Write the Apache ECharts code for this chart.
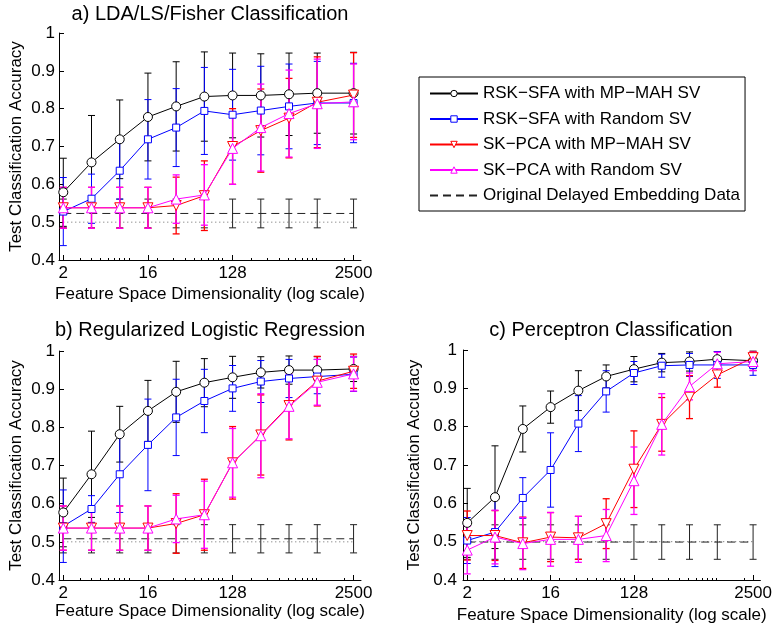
<!DOCTYPE html>
<html>
<head>
<meta charset="utf-8">
<script src="https://cdn.jsdelivr.net/npm/echarts@6/dist/echarts.min.js"></script>
<style>
  html, body { margin: 0; padding: 0; background: #fff; }
  #chart { width: 775px; height: 625px; }
</style>
</head>
<body>
<div id="chart"></div>
<script>
// feature space dimensionality (x values)
const dims = [2, 4, 8, 16, 32, 64, 128, 256, 512, 1024, 2500];
const xMajorTicks = [2, 16, 128, 2500];
const xMinorTicks = [3, 4, 5, 6, 7, 8, 9, 10, 20, 30, 40, 50, 60, 70, 80, 90, 100,
  200, 300, 400, 500, 600, 700, 800, 900, 1000, 2000];
const chanceLevel = 0.5;

const seriesNames = [
  'RSK\u2212SFA with MP\u2212MAH SV',
  'RSK\u2212SFA with Random SV',
  'SK\u2212PCA with MP\u2212MAH SV',
  'SK\u2212PCA with Random SV',
  'Original Delayed Embedding Data'
];
const panelTitles = [
  'a) LDA/LS/Fisher Classification',
  'b) Regularized Logistic Regression',
  'c) Perceptron Classification'
];

// a) LDA/LS/Fisher
const aMpSfa = [0.579, 0.658, 0.719, 0.778, 0.806, 0.832, 0.835, 0.835, 0.838, 0.841, 0.841];
const aMpSfaErr = [0.09, 0.124, 0.104, 0.116, 0.118, 0.118, 0.112, 0.11, 0.109, 0.106, 0.108];
const aRndSfa = [0.528, 0.562, 0.636, 0.719, 0.750, 0.794, 0.784, 0.795, 0.806, 0.815, 0.815];
const aRndSfaErr = [0.09, 0.065, 0.075, 0.105, 0.103, 0.115, 0.12, 0.117, 0.112, 0.11, 0.105];
const aMpPca = [0.538, 0.538, 0.538, 0.538, 0.544, 0.570, 0.700, 0.742, 0.775, 0.817, 0.836];
const aMpPcaErr = [0.054, 0.054, 0.054, 0.054, 0.075, 0.092, 0.1, 0.11, 0.105, 0.12, 0.112];
const aRndPca = [0.538, 0.538, 0.538, 0.538, 0.561, 0.572, 0.695, 0.750, 0.787, 0.813, 0.818];
const aRndPcaErr = [0.054, 0.054, 0.054, 0.054, 0.064, 0.08, 0.095, 0.115, 0.115, 0.118, 0.1];
const aOrig = [0.523, 0.523, 0.523, 0.523, 0.523, 0.523, 0.523, 0.523, 0.523, 0.523, 0.523];
const aOrigErr = [0.038, 0.038, 0.038, 0.038, 0.038, 0.038, 0.038, 0.038, 0.038, 0.038, 0.038];

// b) Regularized Logistic Regression
const bMpSfa = [0.577, 0.677, 0.782, 0.843, 0.893, 0.917, 0.931, 0.944, 0.950, 0.950, 0.953];
const bMpSfaErr = [0.09, 0.113, 0.073, 0.08, 0.08, 0.063, 0.055, 0.041, 0.037, 0.035, 0.033];
const bRndSfa = [0.541, 0.586, 0.677, 0.754, 0.826, 0.869, 0.902, 0.920, 0.928, 0.933, 0.939];
const bRndSfaErr = [0.095, 0.035, 0.1, 0.12, 0.1, 0.083, 0.06, 0.055, 0.05, 0.045, 0.045];
const bMpPca = [0.536, 0.536, 0.536, 0.536, 0.548, 0.571, 0.707, 0.780, 0.857, 0.921, 0.947];
const bMpPcaErr = [0.058, 0.058, 0.058, 0.058, 0.078, 0.093, 0.095, 0.105, 0.09, 0.065, 0.045];
const bRndPca = [0.536, 0.536, 0.536, 0.536, 0.560, 0.571, 0.707, 0.778, 0.855, 0.918, 0.940];
const bRndPcaErr = [0.058, 0.058, 0.058, 0.058, 0.062, 0.088, 0.09, 0.11, 0.085, 0.06, 0.045];
const bOrig = [0.508, 0.508, 0.508, 0.508, 0.508, 0.508, 0.508, 0.508, 0.508, 0.508, 0.508];
const bOrigErr = [0.037, 0.037, 0.037, 0.037, 0.037, 0.037, 0.037, 0.037, 0.037, 0.037, 0.037];

// c) Perceptron
const cMpSfa = [0.549, 0.616, 0.794, 0.851, 0.894, 0.931, 0.950, 0.967, 0.970, 0.976, 0.972];
const cMpSfaErr = [0.09, 0.134, 0.06, 0.042, 0.052, 0.03, 0.033, 0.024, 0.025, 0.02, 0.025];
const cRndSfa = [0.503, 0.525, 0.614, 0.687, 0.808, 0.892, 0.940, 0.959, 0.961, 0.961, 0.961];
const cRndSfaErr = [0.06, 0.09, 0.053, 0.097, 0.073, 0.054, 0.03, 0.03, 0.03, 0.035, 0.027];
const cMpPca = [0.516, 0.516, 0.497, 0.512, 0.510, 0.547, 0.689, 0.806, 0.877, 0.935, 0.980];
const cMpPcaErr = [0.064, 0.065, 0.067, 0.064, 0.056, 0.065, 0.1, 0.07, 0.056, 0.032, 0.015];
const cRndPca = [0.478, 0.512, 0.495, 0.506, 0.506, 0.516, 0.659, 0.806, 0.905, 0.964, 0.970];
const cRndPcaErr = [0.062, 0.07, 0.068, 0.07, 0.06, 0.068, 0.088, 0.08, 0.035, 0.03, 0.024];
const cOrig = [0.499, 0.499, 0.499, 0.499, 0.499, 0.499, 0.499, 0.499, 0.499, 0.499, 0.499];
const cOrigErr = [0.045, 0.045, 0.045, 0.045, 0.045, 0.045, 0.045, 0.045, 0.045, 0.045, 0.045];

const panels = [
  { vals: [aMpSfa, aRndSfa, aMpPca, aRndPca, aOrig], errs: [aMpSfaErr, aRndSfaErr, aMpPcaErr, aRndPcaErr, aOrigErr] },
  { vals: [bMpSfa, bRndSfa, bMpPca, bRndPca, bOrig], errs: [bMpSfaErr, bRndSfaErr, bMpPcaErr, bRndPcaErr, bOrigErr] },
  { vals: [cMpSfa, cRndSfa, cMpPca, cRndPca, cOrig], errs: [cMpSfaErr, cRndSfaErr, cMpPcaErr, cRndPcaErr, cOrigErr] }
];

const colors = ['#000000', '#0000ff', '#ff0000', '#ff00ff', '#222222'];
const symbols = ['circle', 'rect', 'triangle', 'triangle', 'none'];
const symbolSizes = [9, 7, 10, 10, 0];
const symbolRotates = [0, 0, 180, 0, 0];

const grids = [
  { left: 59, top: 33, width: 302, height: 227 },
  { left: 59, top: 351, width: 302, height: 229 },
  { left: 463, top: 350, width: 298, height: 232 }
];
const titlePos = [[210, 4], [210, 320], [611, 320]];
const yNameGap = [34, 34, 40];
const xNameGap = [26, 21, 27];

const font = 'Liberation Sans';
const capW = 3.5;

function errorBars(gi, vals, errs, color, width, z) {
  return {
    type: 'custom',
    xAxisIndex: gi * 2,
    yAxisIndex: gi,
    silent: true,
    z: z,
    encode: { x: 0, y: 1 },
    data: dims.map((d, i) => [d, vals[i], errs[i]]),
    renderItem: function (params, api) {
      const x = api.value(0), y = api.value(1), e = api.value(2);
      const hi = api.coord([x, y + e]);
      const lo = api.coord([x, y - e]);
      const style = { stroke: color, lineWidth: width };
      return {
        type: 'group',
        children: [
          { type: 'line', shape: { x1: hi[0], y1: hi[1], x2: lo[0], y2: lo[1] }, style: style },
          { type: 'line', shape: { x1: hi[0] - capW, y1: hi[1], x2: hi[0] + capW, y2: hi[1] }, style: style },
          { type: 'line', shape: { x1: lo[0] - capW, y1: lo[1], x2: lo[0] + capW, y2: lo[1] }, style: style }
        ]
      };
    }
  };
}

let xAxes = [], yAxes = [], series = [], titles = [];
grids.forEach((g, gi) => {
  xAxes.push({
    type: 'log', logBase: 2, gridIndex: gi, min: 1.8, max: 3000, position: 'bottom',
    name: 'Feature Space Dimensionality (log scale)',
    nameLocation: 'middle', nameGap: xNameGap[gi],
    nameTextStyle: { fontSize: 17, color: '#000', fontFamily: font },
    axisLine: { lineStyle: { color: '#000', width: 1 } },
    axisTick: { inside: true, length: 5, customValues: xMajorTicks, lineStyle: { color: '#000' } },
    axisLabel: { customValues: xMajorTicks, margin: 5, fontSize: 17, color: '#000', fontFamily: font,
      formatter: v => String(Math.round(v)) },
    splitLine: { show: false }, minorTick: { show: false }
  });
  xAxes.push({
    type: 'log', logBase: 2, gridIndex: gi, min: 1.8, max: 3000, position: 'bottom',
    axisLine: { show: false },
    axisTick: { inside: true, length: 2, customValues: xMinorTicks, lineStyle: { color: '#000' } },
    axisLabel: { show: false },
    splitLine: { show: false }
  });
  yAxes.push({
    type: 'value', gridIndex: gi, min: 0.4, max: 1, interval: 0.1,
    name: 'Test Classification Accuracy',
    nameLocation: 'middle', nameGap: yNameGap[gi],
    nameTextStyle: { fontSize: 17, color: '#000', fontFamily: font },
    axisLine: { show: true, lineStyle: { color: '#000', width: 1 } },
    axisTick: { show: true, inside: true, length: 5, lineStyle: { color: '#000' } },
    axisLabel: { margin: gi === 2 ? 6 : 4, fontSize: 17, color: '#000', fontFamily: font },
    splitLine: { show: false }
  });
  titles.push({
    text: panelTitles[gi], left: titlePos[gi][0], top: titlePos[gi][1], textAlign: 'center', padding: 0,
    textStyle: { fontSize: 20, fontWeight: 'normal', color: '#000', fontFamily: font }
  });

  const p = panels[gi];
  // chance level (dotted)
  series.push({
    type: 'line', name: 'chance', xAxisIndex: gi * 2, yAxisIndex: gi, z: 1,
    data: dims.map(d => [d, chanceLevel]), symbol: 'none', silent: true,
    lineStyle: { color: '#666', width: 1, type: [1, 3] }
  });
  // original delayed embedding: dashed line with error bars
  series.push(errorBars(gi, p.vals[4], p.errs[4], colors[4], 1, 2));
  series.push({
    type: 'line', name: seriesNames[4], xAxisIndex: gi * 2, yAxisIndex: gi, z: 2,
    data: dims.map((d, i) => [d, p.vals[4][i]]), symbol: 'none',
    lineStyle: { color: colors[4], width: 1, type: [8, 5] }, itemStyle: { color: colors[4] }
  });
  for (let k = 0; k < 4; k++) {
    series.push(errorBars(gi, p.vals[k], p.errs[k], colors[k], k >= 2 ? 1.3 : 1, 3 + k));
  }
  for (let k = 0; k < 4; k++) {
    series.push({
      type: 'line', name: seriesNames[k], xAxisIndex: gi * 2, yAxisIndex: gi, z: 10 + k,
      data: dims.map((d, i) => [d, p.vals[k][i]]),
      symbol: symbols[k], symbolSize: symbolSizes[k], symbolRotate: symbolRotates[k], showAllSymbol: true,
      lineStyle: { color: colors[k], width: 1 },
      itemStyle: { color: '#fff', borderColor: colors[k], borderWidth: 1 }
    });
  }
});

const legendData = seriesNames.map((n, k) => k < 4
  ? { name: n, itemStyle: { color: '#fff', borderColor: colors[k], borderWidth: 1 } }
  : { name: n, itemStyle: { opacity: 0 } });

const chart = echarts.init(document.getElementById('chart'), null, { renderer: 'canvas' });
chart.setOption({
  animation: false,
  backgroundColor: '#fff',
  textStyle: { fontFamily: font },
  title: titles,
  grid: grids,
  xAxis: xAxes,
  yAxis: yAxes,
  legend: {
    data: legendData,
    orient: 'vertical', left: 419, top: 77,
    itemWidth: 48, itemHeight: 8, itemGap: 8.5,
    padding: [8, 5, 7, 10],
    borderColor: '#000', borderWidth: 1, backgroundColor: '#fff',
    textStyle: { fontSize: 17, color: '#000', fontFamily: font },
    selectedMode: false
  },
  series: series
});
</script>
</body>
</html>
